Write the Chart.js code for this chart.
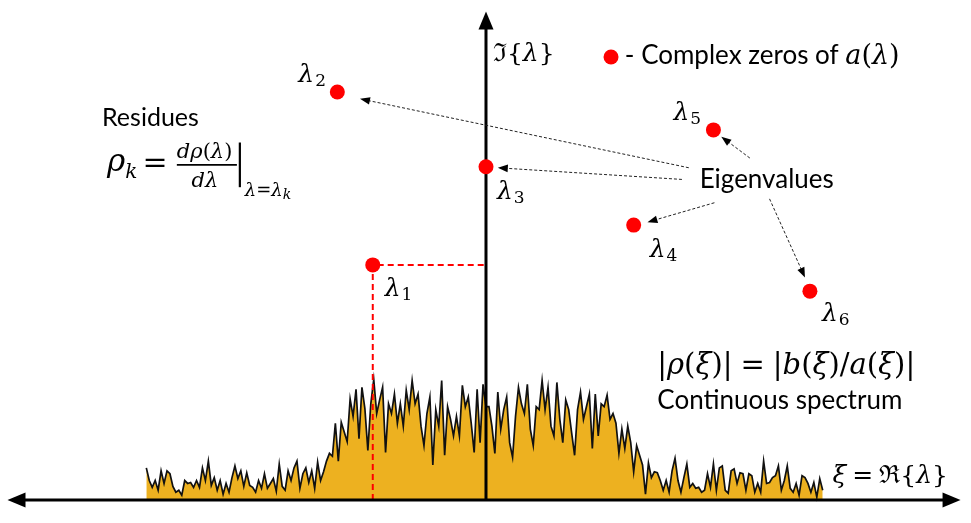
<!DOCTYPE html>
<html>
<head>
<meta charset="utf-8">
<script src="https://cdn.jsdelivr.net/npm/chart.js@4"></script>
<style>
html, body { margin: 0; padding: 0; background: #fff; }
#wrap { width: 971px; height: 523px; }
</style>
</head>
<body>
<div id="wrap"><canvas id="spectrum-chart"></canvas></div>
<script>
/* Eigenvalues = complex zeros of a(λ) */
const eigenLabels = ["1", "2", "3", "4", "5", "6"]
const eigenRe = [-115, -151, 0, 150, 231, 329]
const eigenIm = [242, 420, 343, 283, 381, 215]

/* Continuous spectrum |ρ(ξ)|, sampled along the real axis */
const xiStart = -345
const xiStep = 3
const rhoAbs = [
    33, 20, 13, 20, 10, 30, 17, 30, 27, 14, 8, 10, 5, 20, 17, 18, 13, 20, 13, 33,
    20, 40, 15, 23, 10, 20, 6, 17, 8, 23, 35, 22, 30, 14, 28, 15, 13, 8, 20, 12,
    27, 12, 17, 22, 9, 37, 14, 10, 30, 20, 33, 40, 12, 27, 33, 18, 30, 12,
    39, 20, 29, 40, 48, 45, 79, 40, 80, 70, 60, 104, 86, 114, 63, 116, 94, 51, 99, 124,
    89, 103, 116, 49, 99, 89, 109, 79, 99, 76, 113, 93, 123, 99, 109, 76, 56, 89, 106, 36,
    93, 76, 123, 46, 96, 83, 66, 86, 66, 118, 96, 106, 79, 49, 114, 59, 119,
    96, 96, 76, 48, 111, 73, 93, 106, 59, 44, 86, 116, 99, 89, 119, 73, 56, 96, 93, 123,
    93, 116, 76, 66, 121, 83, 59, 103, 93, 69, 46, 93, 111, 83, 96, 109, 53, 109, 66, 99,
    96, 108, 83, 89, 79, 48, 73, 53, 76, 59, 29, 56, 46, 36, 6, 38, 23, 29,
    28, 20, 10, 20, 8, 30, 43, 20, 8, 23, 37, 13, 17, 12, 13, 8, 10, 27, 13, 37,
    10, 33, 35, 10, 7, 30, 32, 17, 28, 27, 10, 27, 25, 8, 17, 8, 40, 17, 18, 23,
    25, 35, 10, 20, 35, 12, 8, 17, 5, 25, 23, 17, 8, 18, 3, 22, 10
]

const sans = "Lato, 'Open Sans', sans-serif"
const serif = "'DejaVu Serif', serif"

/* draw text pieces one after another */
function drawRuns (ctx, x, y, runs) {
    for (const r of runs) {
        ctx.font = r.font
        ctx.fillText(r.text, x, y + (r.dy || 0))
        x += ctx.measureText(r.text).width + (r.gap || 0)
    }
    return x
}

function arrowHead (ctx, x1, y1, x2, y2, len, half) {
    const a = Math.atan2(y2 - y1, x2 - x1)
    const c = Math.cos(a), s = Math.sin(a)
    ctx.beginPath()
    ctx.moveTo(x2, y2)
    ctx.lineTo(x2 - len * c + half * s, y2 - len * s - half * c)
    ctx.lineTo(x2 - len * c - half * s, y2 - len * s + half * c)
    ctx.closePath()
    ctx.fill()
}

function arrow (ctx, x1, y1, x2, y2, len, half, dash) {
    const a = Math.atan2(y2 - y1, x2 - x1)
    ctx.setLineDash(dash)
    ctx.beginPath()
    ctx.moveTo(x1, y1)
    ctx.lineTo(x2 - len * 0.8 * Math.cos(a), y2 - len * 0.8 * Math.sin(a))
    ctx.stroke()
    ctx.setLineDash([])
    arrowHead(ctx, x1, y1, x2, y2, len, half)
}

/* axes, drawn over the spectrum but under the eigenvalue dots */
const axesPlugin = {
    id: "axes",
    beforeDatasetDraw (chart, args) {
        if (args.index !== 0) return
        const ctx = chart.ctx
        const xs = chart.scales.x, ys = chart.scales.y
        const x0 = xs.getPixelForValue(0), y0 = ys.getPixelForValue(0)
        const left = xs.getPixelForValue(xs.min), right = xs.getPixelForValue(482)
        const top = ys.getPixelForValue(503)
        ctx.save()
        ctx.strokeStyle = "#000"
        ctx.fillStyle = "#000"
        ctx.lineWidth = 3
        ctx.beginPath()
        ctx.moveTo(left + 14, y0); ctx.lineTo(right - 14, y0)
        ctx.moveTo(x0, y0 + 1.5); ctx.lineTo(x0, top + 14)
        ctx.stroke()
        arrowHead(ctx, right - 30, y0, right, y0, 18, 7.5)
        arrowHead(ctx, left + 30, y0, left, y0, 18, 7.5)
        arrowHead(ctx, x0, top + 30, x0, top, 18, 7.5)
        ctx.restore()
    }
}

/* labels, arrows and formulas */
const notesPlugin = {
    id: "notes",
    afterDatasetsDraw (chart) {
        const ctx = chart.ctx
        const xs = chart.scales.x, ys = chart.scales.y
        const X = v => xs.getPixelForValue(v)
        const Y = v => ys.getPixelForValue(v)
        ctx.save()
        ctx.fillStyle = "#000"
        ctx.textBaseline = "alphabetic"

        /* eigenvalue labels */
        const offs = [[12, 31], [-39, -10], [11, 32], [16, 32], [-40, -10], [12, 30]]
        eigenLabels.forEach((lab, i) => {
            drawRuns(ctx, X(eigenRe[i]) + offs[i][0], Y(eigenIm[i]) + offs[i][1], [
                { text: "λ", font: "italic 25px " + serif, gap: 1 },
                { text: lab, font: "17px " + serif, dy: 4 }
            ])
        })

        /* arrows from "Eigenvalues" */
        const from = [[206, 342], [199, 330], [268, 352], [232, 306], [288, 310]]
        const to = [[-128, 413], [12, 342], [239, 374], [164, 286], [324, 229]]
        ctx.strokeStyle = "#222"
        ctx.fillStyle = "#000"
        ctx.lineWidth = 1
        from.forEach((f, i) => {
            arrow(ctx, X(f[0]), Y(f[1]), X(to[i][0]), Y(to[i][1]), 10, 3.8, [3, 2])
        })

        ctx.font = "26px " + sans
        ctx.fillText("Eigenvalues", X(217), Y(321))
        ctx.fillText("Continuous spectrum", X(174), Y(94))
        ctx.font = "25px " + sans
        ctx.fillText("Residues", X(-390), Y(385))

        /* legend */
        ctx.fillStyle = "#ff0000"
        ctx.beginPath()
        ctx.arc(X(127), Y(456), 7.5, 0, Math.PI * 2)
        ctx.fill()
        ctx.fillStyle = "#000"
        drawRuns(ctx, X(141), Y(449), [
            { text: "- Complex zeros of ", font: "26px " + sans },
            { text: "a", font: "italic 27px " + serif },
            { text: "(", font: "27px " + serif },
            { text: "λ", font: "italic 27px " + serif },
            { text: ")", font: "27px " + serif }
        ])

        /* axis names */
        drawRuns(ctx, X(7), Y(452), [
            { text: "ℑ{", font: "25px " + serif },
            { text: "λ", font: "italic 25px " + serif },
            { text: "}", font: "25px " + serif }
        ])
        drawRuns(ctx, X(352), Y(17), [
            { text: "ξ", font: "italic 25px " + serif, gap: 6 },
            { text: "=", font: "25px " + serif, gap: 6 },
            { text: "ℜ{", font: "25px " + serif },
            { text: "λ", font: "italic 25px " + serif },
            { text: "}", font: "25px " + serif }
        ])

        /* |ρ(ξ)| = |b(ξ)/a(ξ)| */
        const it = "italic 29px " + serif, up = "29px " + serif
        drawRuns(ctx, X(174), Y(130), [
            { text: "|", font: up },
            { text: "ρ", font: it },
            { text: "(", font: up },
            { text: "ξ", font: it },
            { text: ")|", font: up, gap: 8 },
            { text: "=", font: up, gap: 8 },
            { text: "|", font: up },
            { text: "b", font: it },
            { text: "(", font: up },
            { text: "ξ", font: it },
            { text: ")/", font: up },
            { text: "a", font: it },
            { text: "(", font: up },
            { text: "ξ", font: it },
            { text: ")|", font: up }
        ])

        /* residue formula */
        drawRuns(ctx, X(-385), Y(339), [
            { text: "ρ", font: "italic 31px " + serif },
            { text: "k", font: "italic 20px " + serif, dy: 7 }
        ])
        ctx.font = "30px " + serif
        ctx.fillText("=", X(-349), Y(338))
        drawRuns(ctx, X(-314), Y(352), [
            { text: "dρ", font: "italic 21px " + serif },
            { text: "(", font: "21px " + serif },
            { text: "λ", font: "italic 21px " + serif },
            { text: ")", font: "21px " + serif }
        ])
        drawRuns(ctx, X(-299), Y(322), [
            { text: "dλ", font: "italic 21px " + serif }
        ])
        ctx.strokeStyle = "#000"
        ctx.lineWidth = 1.8
        ctx.beginPath()
        ctx.moveTo(X(-314), Y(345)); ctx.lineTo(X(-253), Y(345))
        ctx.stroke()
        ctx.lineWidth = 2.2
        ctx.beginPath()
        ctx.moveTo(X(-250), Y(368)); ctx.lineTo(X(-250), Y(322))
        ctx.stroke()
        drawRuns(ctx, X(-245), Y(313), [
            { text: "λ=λ", font: "italic 18px " + serif },
            { text: "k", font: "italic 14px " + serif, dy: 3 }
        ])
        ctx.restore()
    }
}

const spectrumData = rhoAbs.map((v, i) => ({ x: xiStart + i * xiStep, y: v }))
const guideData = [
    { x: eigenRe[0], y: 0 },
    { x: eigenRe[0], y: eigenIm[0] },
    { x: 0, y: eigenIm[0] }
]
const eigenData = eigenRe.map((re, i) => ({ x: re, y: eigenIm[i] }))

new Chart(document.querySelector("#spectrum-chart"), {
    type: "scatter",
    data: {
        datasets: [
            {
                label: "Eigenvalues",
                data: eigenData,
                backgroundColor: "#ff0000",
                borderWidth: 0,
                pointRadius: 7.5,
                order: 0
            },
            {
                label: "guide",
                type: "line",
                data: guideData,
                borderColor: "#ff0000",
                borderWidth: 2,
                borderDash: [6, 4],
                pointRadius: 0,
                fill: false,
                order: 1
            },
            {
                label: "Continuous spectrum",
                type: "line",
                data: spectrumData,
                borderColor: "#111",
                borderWidth: 1.7,
                backgroundColor: "#EDB120",
                fill: "origin",
                pointRadius: 0,
                tension: 0,
                order: 2
            }
        ]
    },
    options: {
        responsive: true,
        maintainAspectRatio: false,
        animation: false,
        layout: { padding: 0 },
        plugins: { legend: { display: false }, tooltip: { enabled: false } },
        scales: {
            x: { type: "linear", min: -486, max: 485, display: false },
            y: { type: "linear", min: -16, max: 507, display: false }
        }
    },
    plugins: [axesPlugin, notesPlugin]
})
</script>
</body>
</html>
